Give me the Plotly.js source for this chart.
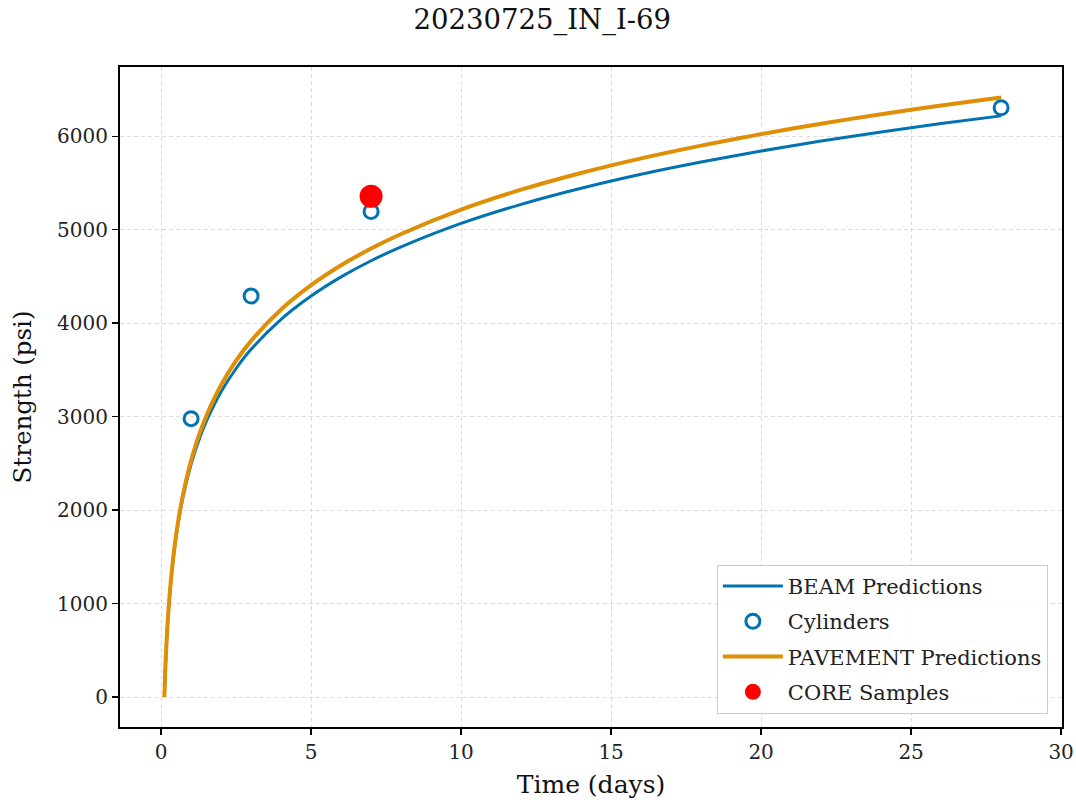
<!DOCTYPE html>
<html>
<head>
<meta charset="utf-8">
<script src="https://cdn.plot.ly/plotly-3.0.1.min.js"></script>
<style>html,body{margin:0;padding:0;background:#fff}#chart{width:1076px;height:804px}</style>
</head>
<body>
<div id="chart"></div>
<script>
const titleText = "20230725_IN_I-69";
const predTime = [0.11, 0.13, 0.16, 0.2, 0.25, 0.32, 0.4, 0.5, 0.65, 0.8, 1, 1.25, 1.5, 2, 2.5, 3, 4, 5, 6, 7, 8, 10, 12, 14, 16, 18, 20, 22, 24, 26, 28];
const beamPred = [0, 207, 439, 690, 939, 1215, 1465, 1715, 2008, 2240, 2490, 2740, 2943, 3265, 3515, 3720, 4041, 4290, 4495, 4668, 4816, 5067, 5271, 5443, 5593, 5724, 5842, 5949, 6046, 6136, 6218];
const pavePred = [0, 215, 450, 700, 950, 1225, 1480, 1735, 2035, 2270, 2530, 2790, 3002, 3338, 3598, 3811, 4146, 4406, 4619, 4799, 4954, 5215, 5428, 5607, 5763, 5900, 6023, 6134, 6236, 6329, 6415];
const cylTime = [1, 3, 7, 28];
const cylStrength = [2978, 4290, 5195, 6305];
const coreTime = [7];
const coreStrength = [5358];

const serif = "DejaVu Serif, serif";
const traces = [
  {x: predTime, y: beamPred, mode: "lines", name: "BEAM Predictions", legendgroup: "a",
   line: {color: "#0173b2", width: 3, shape: "spline", smoothing: 0.8}},
  {x: cylTime, y: cylStrength, mode: "markers", name: "Cylinders", legendgroup: "b",
   marker: {symbol: "circle-open", size: 14, color: "#0173b2", line: {width: 3, color: "#0173b2"}}},
  {x: predTime, y: pavePred, mode: "lines", name: "PAVEMENT Predictions", legendgroup: "c",
   line: {color: "#de8f05", width: 4, shape: "spline", smoothing: 0.8}},
  {x: coreTime, y: coreStrength, mode: "markers", name: "CORE Samples", legendgroup: "d",
   marker: {symbol: "circle", size: 23, color: "#ff0000"}}
];
const axisCommon = {
  showline: true, linecolor: "#000", linewidth: 2, mirror: true,
  ticks: "outside", ticklen: 6, tickwidth: 1.5, tickcolor: "#000",
  showgrid: true, gridcolor: "#dcdcdc", griddash: "4px,3px", gridwidth: 1,
  zeroline: false,
  tickfont: {family: serif, size: 20, color: "#222"}
};
const layout = {
  width: 1076, height: 804,
  paper_bgcolor: "#fff", plot_bgcolor: "#fff",
  margin: {l: 120, r: 14, t: 67, b: 77},
  title: {text: titleText, font: {family: serif, size: 27.5, color: "#111"}, x: 0.504, xref: "container", y: 0.988, yref: "container", yanchor: "top"},
  xaxis: Object.assign({}, axisCommon, {
    range: [-1.37, 30.03], tickvals: [0, 5, 10, 15, 20, 25, 30],
    title: {text: "Time (days)", font: {family: serif, size: 25, color: "#111"}, standoff: 12}
  }),
  yaxis: Object.assign({}, axisCommon, {
    range: [-321, 6741], tickvals: [0, 1000, 2000, 3000, 4000, 5000, 6000],
    title: {text: "Strength (psi)", font: {family: serif, size: 24.5, color: "#111"}, standoff: 19}
  }),
  showlegend: true,
  legend: {
    x: 0.985, y: 0.02, xanchor: "right", yanchor: "bottom",
    bgcolor: "rgba(255,255,255,0.9)", bordercolor: "#cccccc", borderwidth: 1,
    font: {family: serif, size: 21, color: "#222"},
    tracegroupgap: 5, traceorder: "grouped", itemwidth: 60
  }
};
Plotly.newPlot("chart", traces, layout, {displayModeBar: false, staticPlot: true});
</script>
</body>
</html>
